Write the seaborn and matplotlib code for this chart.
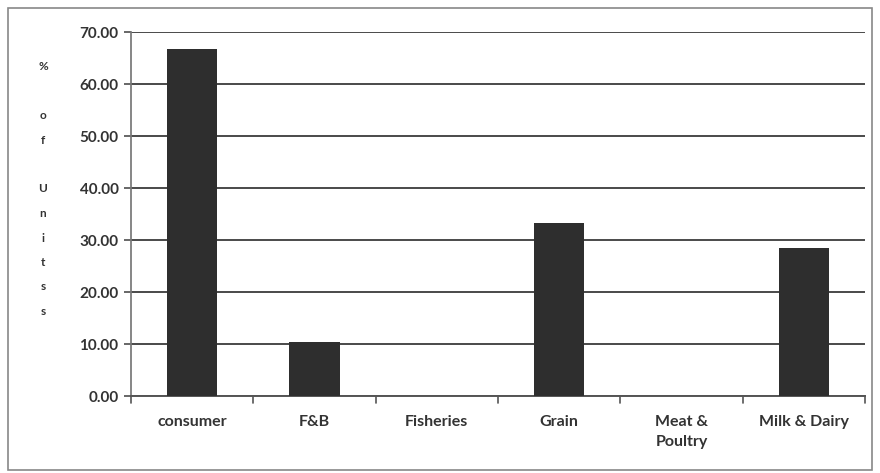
import matplotlib
matplotlib.use("Agg")
import matplotlib.pyplot as plt
import seaborn as sns
import pandas as pd
import numpy as np

categories = ["consumer", "F&B", "Fisheries", "Grain", "Meat &\nPoultry", "Milk & Dairy"]
share_of_units = [66.7, 10.4, 0.0, 33.3, 0.0, 28.5]
y_ticks = [0, 10, 20, 30, 40, 50, 60, 70]

df = pd.DataFrame({"sector": categories, "pct": share_of_units})

sns.set_theme(style="white")
plt.rcParams["font.family"] = ["Lato", "DejaVu Sans"]

fig = plt.figure(figsize=(8.8, 4.73), dpi=100)
ax = fig.add_axes([131 / 880, 1 - 396 / 473, (865 - 131) / 880, (396 - 32) / 473])

sns.barplot(data=df, x="sector", y="pct", color="#2e2e2e", width=0.41,
            saturation=1, ax=ax, zorder=3, edgecolor="#2e2e2e", linewidth=0)

ax.set_ylim(0, 70)
ax.set_xlim(-0.5, len(categories) - 0.5)
ax.set_yticks(y_ticks)
ax.set_yticklabels([f"{v:.2f}" for v in y_ticks], fontsize=11, color="#333333",
                   fontweight="bold")
ax.set_xticks(range(len(categories)))
ax.set_xticklabels(categories, fontsize=11.5, color="#333333", fontweight="bold",
                   va="top", linespacing=1.5)
ax.tick_params(axis="x", length=0, pad=14)
ax.tick_params(axis="y", length=5, direction="out", left=True, color="#555555", pad=4)

# category boundary ticks below the x axis
for b in np.arange(-0.5, len(categories), 1.0):
    ax.plot([b, b], [0, -1.3], color="#555555", lw=1.2, clip_on=False, zorder=4)

ax.yaxis.grid(True, color="#4a4a4a", lw=1.4)
ax.set_axisbelow(True)
for side in ["top", "right"]:
    ax.spines[side].set_visible(False)
ax.spines["left"].set_color("#777777")
ax.spines["bottom"].set_color("#555555")
ax.spines["bottom"].set_linewidth(1.4)
ax.set_xlabel("")
ax.set_ylabel("")

# stacked-letter axis title
fig.text(43 / 880, 1 - 189 / 473, "%\n\no\nf\n\nU\nn\ni\nt\ns\ns", ha="center",
         va="center", fontsize=8.5, fontweight="bold", color="#333333",
         linespacing=2.5)

# outer chart-area border
fig.patches.append(plt.Rectangle((8 / 880, 3 / 473), 864 / 880, 462 / 473,
                                 transform=fig.transFigure, fill=False,
                                 edgecolor="#888888", lw=1.2))

fig.savefig("out.png", dpi=100, facecolor="white")
